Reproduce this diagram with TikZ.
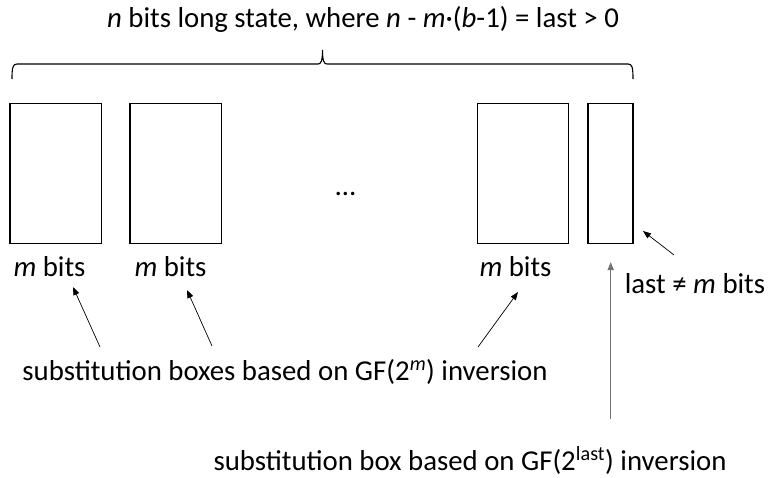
\documentclass[tikz,border=0pt]{standalone}
\usepackage{fontspec}
\setmainfont{Carlito}
\usetikzlibrary{arrows.meta}
\begin{document}
\begin{tikzpicture}[x=1pt,y=-1pt,
  every node/.style={font=\fontsize{28.8}{34}\selectfont, inner sep=0pt},
  cell/.style={draw, line width=1.2pt, minimum height=140pt, inner sep=0pt},
  lbl/.style={anchor=base},
  ptr/.style={-{Triangle[length=8pt,width=6pt]}, line width=0.7pt},
  ptrgray/.style={-{Triangle[length=8pt,width=6pt]}, line width=1.4pt, draw=black!55, fill=black}]
  \useasboundingbox (0,0) rectangle (768,477);

  % title and brace over the whole state
  \node[lbl] (title) at (363,27) {\textit{n} bits long state, where \textit{n} - \textit{m}·(\textit{b}-1) = last > 0};
  \coordinate (braceL) at (12,79);
  \coordinate (braceR) at (633,79);
  \coordinate (braceTip) at (322.5,50);
  \draw[line width=1.1pt] (braceL) .. controls (12,67) and (13,64) .. (17,64)
    -- (318,64) .. controls (321,64) and (322.5,61) .. (braceTip)
    .. controls (322.5,61) and (324,64) .. (327,64)
    -- (628,64) .. controls (632,64) and (633,67) .. (braceR);

  % the cells of the state
  \node[cell, minimum width=91.5pt] (c1) at (55.75,173.5) {};
  \node[cell, minimum width=91.5pt] (c2) at (175.75,173.5) {};
  \node[cell, minimum width=91pt]   (c3) at (523,173.5) {};
  \node[cell, minimum width=45pt]   (c4) at (610.5,173.5) {};
  \node[lbl] (dots) at (345.5,195) {…};

  % widths of the cells
  \node[lbl] (w1) at (49.5,276) {\textit{m} bits};
  \node[lbl] (w2) at (170.5,276) {\textit{m} bits};
  \node[lbl] (w3) at (515.5,276) {\textit{m} bits};
  \node[lbl] (w4) at (695,293) {last ≠ \textit{m} bits};

  % the substitution boxes
  \node[lbl] (sb) at (285,380) {substitution boxes based on GF(2\textsuperscript{\textit{m}}) inversion};
  \node[lbl] (sl) at (470,470) {substitution box based on GF(2\textsuperscript{last}) inversion};

  \coordinate (s1) at (100,347);  \coordinate (e1) at (73,287);
  \coordinate (s2) at (212,346);  \coordinate (e2) at (187,290);
  \coordinate (s3) at (478,347);  \coordinate (e3) at (518,292);
  \coordinate (s4) at (674,255);  \coordinate (e4) at (643,231);
  \coordinate (s5) at (610.7,419); \coordinate (e5) at (610.7,262);
  \draw[ptr] (s1) -- (e1);
  \draw[ptr] (s2) -- (e2);
  \draw[ptr] (s3) -- (e3);
  \draw[ptr] (s4) -- (e4);
  \draw[ptrgray] (s5) -- (e5);
\end{tikzpicture}
\end{document}
